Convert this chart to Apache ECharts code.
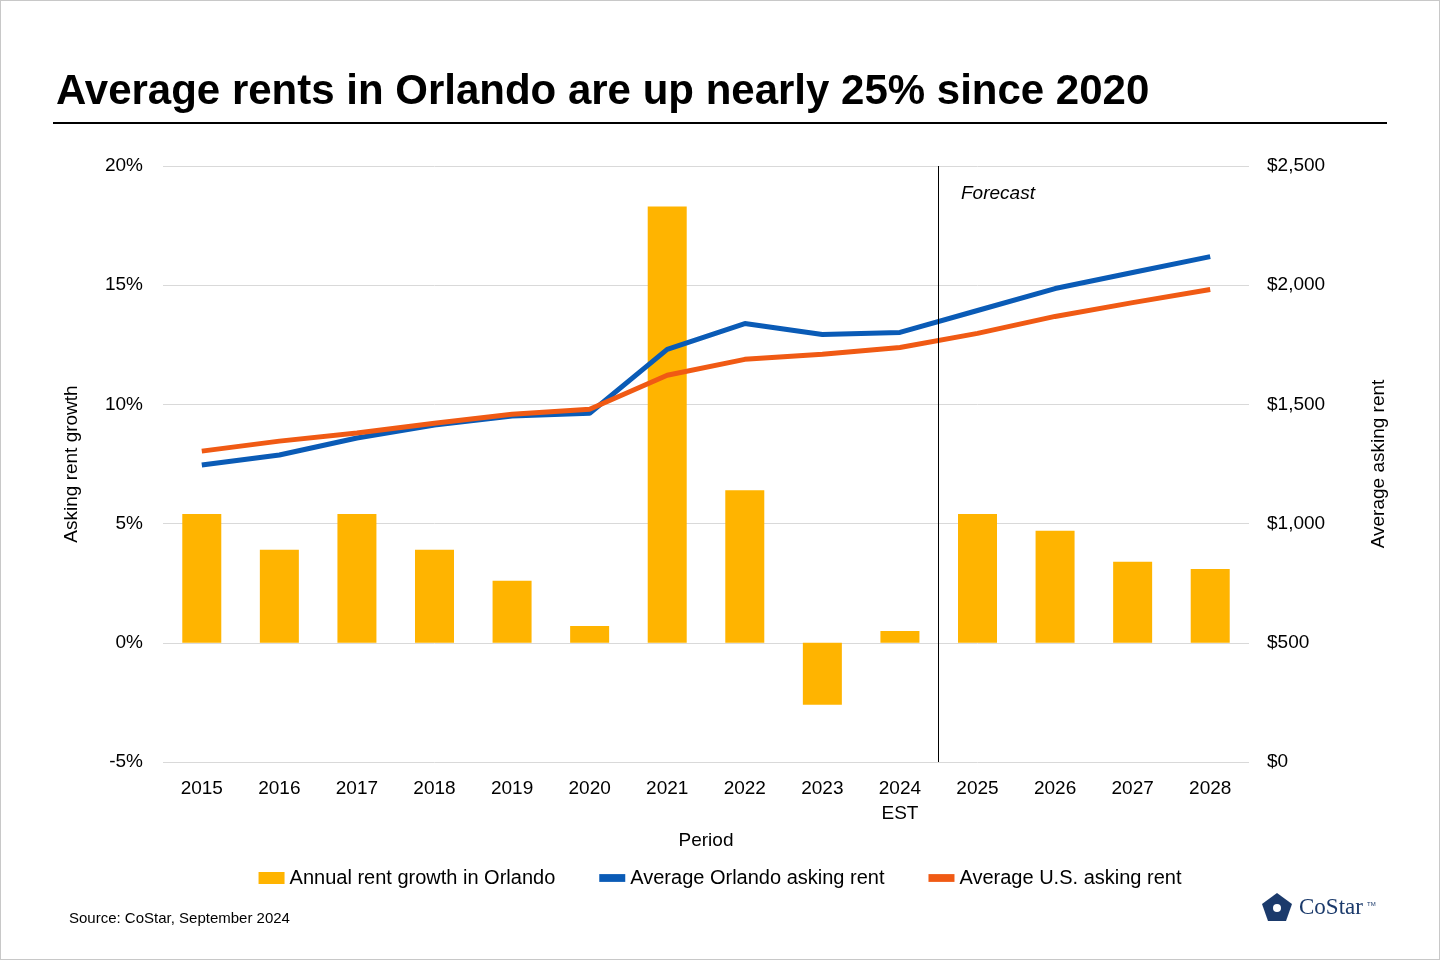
<!DOCTYPE html>
<html lang="en">
<head>
<meta charset="UTF-8">
<title>Orlando rents</title>
<style>
  body { margin: 0; background: #fff; }
  #chart { width: 1440px; height: 960px; box-sizing: border-box; border: 1px solid #c8c8c8; }
</style>
</head>
<body>
<div id="chart"></div>
<script src="https://cdn.jsdelivr.net/npm/echarts@6/dist/echarts.min.js"></script>
<script>
  var years = ['2015', '2016', '2017', '2018', '2019', '2020', '2021', '2022', '2023', '2024\nEST', '2025', '2026', '2027', '2028'];
  var growth = [5.4, 3.9, 5.4, 3.9, 2.6, 0.7, 18.3, 6.4, -2.6, 0.5, 5.4, 4.7, 3.4, 3.1];
  var orlandoRent = [1246, 1288, 1359, 1413, 1451, 1463, 1731, 1839, 1793, 1802, 1894, 1986, 2053, 2120];
  var usRent = [1304, 1346, 1380, 1421, 1459, 1480, 1622, 1689, 1710, 1739, 1798, 1869, 1927, 1982];

  var chart = echarts.init(document.getElementById('chart'));
  var font = 'Arial, "Liberation Sans", sans-serif';
  chart.setOption({
    animation: false,
    textStyle: { fontFamily: font },
    title: {
      text: 'Average rents in Orlando are up nearly 25% since 2020',
      left: 50, top: 65,
      textStyle: { fontSize: 42, fontWeight: 'bold', color: '#000', fontFamily: font }
    },
    graphic: [
      { type: 'line', shape: { x1: 52, y1: 122, x2: 1386, y2: 122 }, style: { stroke: '#000', lineWidth: 2 } },
      { type: 'text', left: 68, top: 910, style: { text: 'Source: CoStar, September 2024', fontSize: 15, fill: '#000', fontFamily: font } },
      { type: 'text', left: 960, top: 183, style: { text: 'Forecast', fontSize: 19, fontStyle: 'italic', fill: '#000', fontFamily: font } },
      { type: 'text', left: 1298, top: 895, style: { text: 'CoStar', fontSize: 23, fill: '#1b3a6b', fontFamily: '"Liberation Serif", serif' } },
      { type: 'text', left: 1366, top: 900, style: { text: 'TM', fontSize: 6, fill: '#1b3a6b', fontFamily: font } },
      { type: 'polygon', shape: { points: [[1276, 892], [1291, 903], [1285, 920], [1267, 920], [1261, 903]] }, style: { fill: '#1b3a6b' } },
      { type: 'circle', shape: { cx: 1276, cy: 907, r: 4 }, style: { fill: '#fff' } }
    ],
    legend: {
      top: 862, left: 'center', itemGap: 44, itemWidth: 26, itemHeight: 12,
      textStyle: { fontSize: 20, color: '#000', fontFamily: font },
      data: [
        { name: 'Annual rent growth in Orlando', icon: 'rect' },
        { name: 'Average Orlando asking rent', icon: 'path://M0,0H10V3H0Z', itemStyle: { color: '#0a5bb6' } },
        { name: 'Average U.S. asking rent', icon: 'path://M0,0H10V3H0Z', itemStyle: { color: '#f05a14' } }
      ]
    },
    grid: { left: 162, right: 190, top: 165, bottom: 197 },
    xAxis: [{
      type: 'category', data: years,
      name: 'Period', nameLocation: 'middle', nameGap: 37,
      nameTextStyle: { fontSize: 19, color: '#000' },
      axisLine: { show: false }, axisTick: { show: false },
      axisLabel: { fontSize: 19, color: '#000', margin: 14, lineHeight: 25 }
    }, {
      type: 'value', min: -0.5, max: 13.5, show: false
    }],
    yAxis: [{
      type: 'value', min: -5, max: 20, interval: 5,
      name: 'Asking rent growth', nameLocation: 'middle', nameGap: 82,
      nameTextStyle: { fontSize: 19, color: '#000' },
      axisLine: { show: false }, axisTick: { show: false },
      axisLabel: { formatter: '{value}%', fontSize: 19, color: '#000', margin: 20 },
      splitLine: { lineStyle: { color: '#d9d9d9' } }
    }, {
      type: 'value', min: 0, max: 2500, interval: 500,
      name: 'Average asking rent', nameLocation: 'middle', nameGap: 120,
      nameTextStyle: { fontSize: 19, color: '#000' },
      axisLine: { show: false }, axisTick: { show: false },
      axisLabel: { formatter: function (v) { return '$' + v.toLocaleString('en-US'); }, fontSize: 19, color: '#000', margin: 18 },
      splitLine: { show: false }
    }],
    series: [{
      name: 'Annual rent growth in Orlando', type: 'bar', data: growth,
      barWidth: 39, itemStyle: { color: '#ffb400' }
    }, {
      name: 'Average Orlando asking rent', type: 'line', yAxisIndex: 1, data: orlandoRent,
      symbol: 'none', lineStyle: { width: 5, color: '#0a5bb6' }, itemStyle: { color: '#0a5bb6' }
    }, {
      name: 'Average U.S. asking rent', type: 'line', yAxisIndex: 1, data: usRent,
      symbol: 'none', lineStyle: { width: 5, color: '#f05a14' }, itemStyle: { color: '#f05a14' }
    }, {
      type: 'line', xAxisIndex: 1, data: [], silent: true,
      markLine: {
        symbol: 'none', label: { show: false },
        lineStyle: { color: '#000', width: 1, type: 'solid' },
        data: [{ xAxis: 9.5 }]
      }
    }]
  });
</script>
</body>
</html>
